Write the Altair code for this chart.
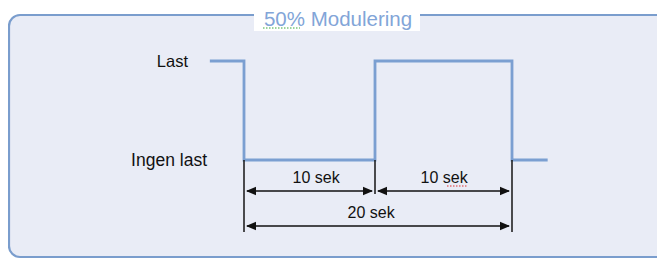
import altair as alt
import pandas as pd

# ---- data ----
wave_t = [-2.5, 0, 0, 10, 10, 20, 20, 22.5]          # seconds
wave_level = [1, 1, 0, 0, 1, 1, 0, 0]                 # 1 = Last, 0 = Ingen last
level_names = ["Last", "Ingen last"]
level_values = [1, 0]
marker_t = [0, 10, 20]
marker_kind = ["long", "short", "long"]
span_start = [0, 10, 0]
span_end = [10, 20, 20]
span_row = [0, 0, 1]
span_label = ["10 sek", "10 sek", "20 sek"]
span_label_t = [5.5, 15.05, 9.7]
title_text = "50% Modulering"

FONT = "Liberation Sans"
BLUE = "#7B9FD1"

wave = pd.DataFrame({"i": list(range(len(wave_t))), "t": wave_t, "level": wave_level})
levels = pd.DataFrame({"name": level_names, "level": level_values})
markers = pd.DataFrame({"t": marker_t, "kind": marker_kind})
spans = pd.DataFrame({"start": span_start, "end": span_end, "row": span_row,
                      "label": span_label, "lt": span_label_t})
one = pd.DataFrame({"a": [0]})

xs = alt.Scale(domain=[0, 10, 20], range=[236, 367, 504], nice=False, zero=False)
ys = alt.Scale(domain=[0, 1], range=[152, 53], nice=False, zero=False)

frame = alt.Chart(one).mark_rect(fill="#E9ECF6", stroke="#7A9DCD", strokeWidth=2.2,
                                 cornerRadius=11).encode(
    x=alt.value(1), x2=alt.value(720), y=alt.value(7), y2=alt.value(249))

title_bg = alt.Chart(one).mark_rect(fill="white").encode(
    x=alt.value(246), x2=alt.value(412), y=alt.value(0), y2=alt.value(23))

title = alt.Chart(one).mark_text(text=title_text, font=FONT, fontSize=20.5, color="#82A5D8",
                                 align="center", baseline="alphabetic").encode(
    x=alt.value(330), y=alt.value(18))

squiggle_green = alt.Chart(one).mark_rule(color="#3BAA3B", strokeWidth=1.2,
                                          strokeDash=[1.5, 1.5]).encode(
    x=alt.value(255), x2=alt.value(292), y=alt.value(20))

squiggle_red = alt.Chart(one).mark_rule(color="#E03030", strokeWidth=1.2,
                                        strokeDash=[1.5, 1.5]).encode(
    x=alt.value(439), x2=alt.value(460), y=alt.value(178))

line = alt.Chart(wave).mark_line(color=BLUE, strokeWidth=2.8, strokeCap="square").encode(
    x=alt.X("t:Q", scale=xs, axis=None),
    y=alt.Y("level:Q", scale=ys, axis=None),
    order="i:Q")

def level_label(name, xpix, size):
    return alt.Chart(levels).transform_filter(alt.datum.name == name).mark_text(
        font=FONT, fontSize=size, color="#111111", align="right", baseline="middle", dy=1
    ).encode(x=alt.value(xpix), y=alt.Y("level:Q", scale=ys, axis=None), text="name:N")

lab_last = level_label("Last", 180, 16.5)
lab_none = level_label("Ingen last", 199, 17.5)

def vlines(kind, y2pix):
    return alt.Chart(markers).transform_filter(alt.datum.kind == kind).mark_rule(
        color="#151515", strokeWidth=1.5).encode(
        x=alt.X("t:Q", scale=xs, axis=None), y=alt.value(152), y2=alt.value(y2pix))

v_long = vlines("long", 224)
v_short = vlines("short", 186)

RIGHT_HEAD = "M0,0L-1,-0.42L-1,0.42Z"
LEFT_HEAD = "M0,0L1,-0.42L1,0.42Z"

def arrow_row(row, ypix, label_y):
    base = alt.Chart(spans).transform_filter(alt.datum.row == row)
    shaft = base.mark_rule(color="#111111", strokeWidth=1.6, xOffset=3, x2Offset=-3).encode(
        x=alt.X("start:Q", scale=xs, axis=None), x2="end:Q", y=alt.value(ypix))
    lhead = base.mark_point(shape=LEFT_HEAD, size=400, filled=True, opacity=1,
                            color="#111111", strokeWidth=0, xOffset=2).encode(
        x=alt.X("start:Q", scale=xs, axis=None), y=alt.value(ypix))
    rhead = base.mark_point(shape=RIGHT_HEAD, size=400, filled=True, opacity=1,
                            color="#111111", strokeWidth=0, xOffset=-2).encode(
        x=alt.X("end:Q", scale=xs, axis=None), y=alt.value(ypix))
    txt = base.mark_text(font=FONT, fontSize=16, color="#111111", align="center",
                         baseline="alphabetic").encode(
        x=alt.X("lt:Q", scale=xs, axis=None), y=alt.value(label_y), text="label:N")
    return [shaft, lhead, rhead, txt]

layers = [frame, title_bg, title, squiggle_green, line, lab_last, lab_none, v_long, v_short]
layers += arrow_row(0, 183, 175)
layers += arrow_row(1, 218, 210)
layers += [squiggle_red]

chart = alt.layer(*layers).properties(
    width=649, height=251, autosize=alt.AutoSizeParams(type="none"), padding=0,
    background="white"
).configure_view(stroke=None)

chart.save("out.html", embed_options={"renderer": "svg", "actions": False})
